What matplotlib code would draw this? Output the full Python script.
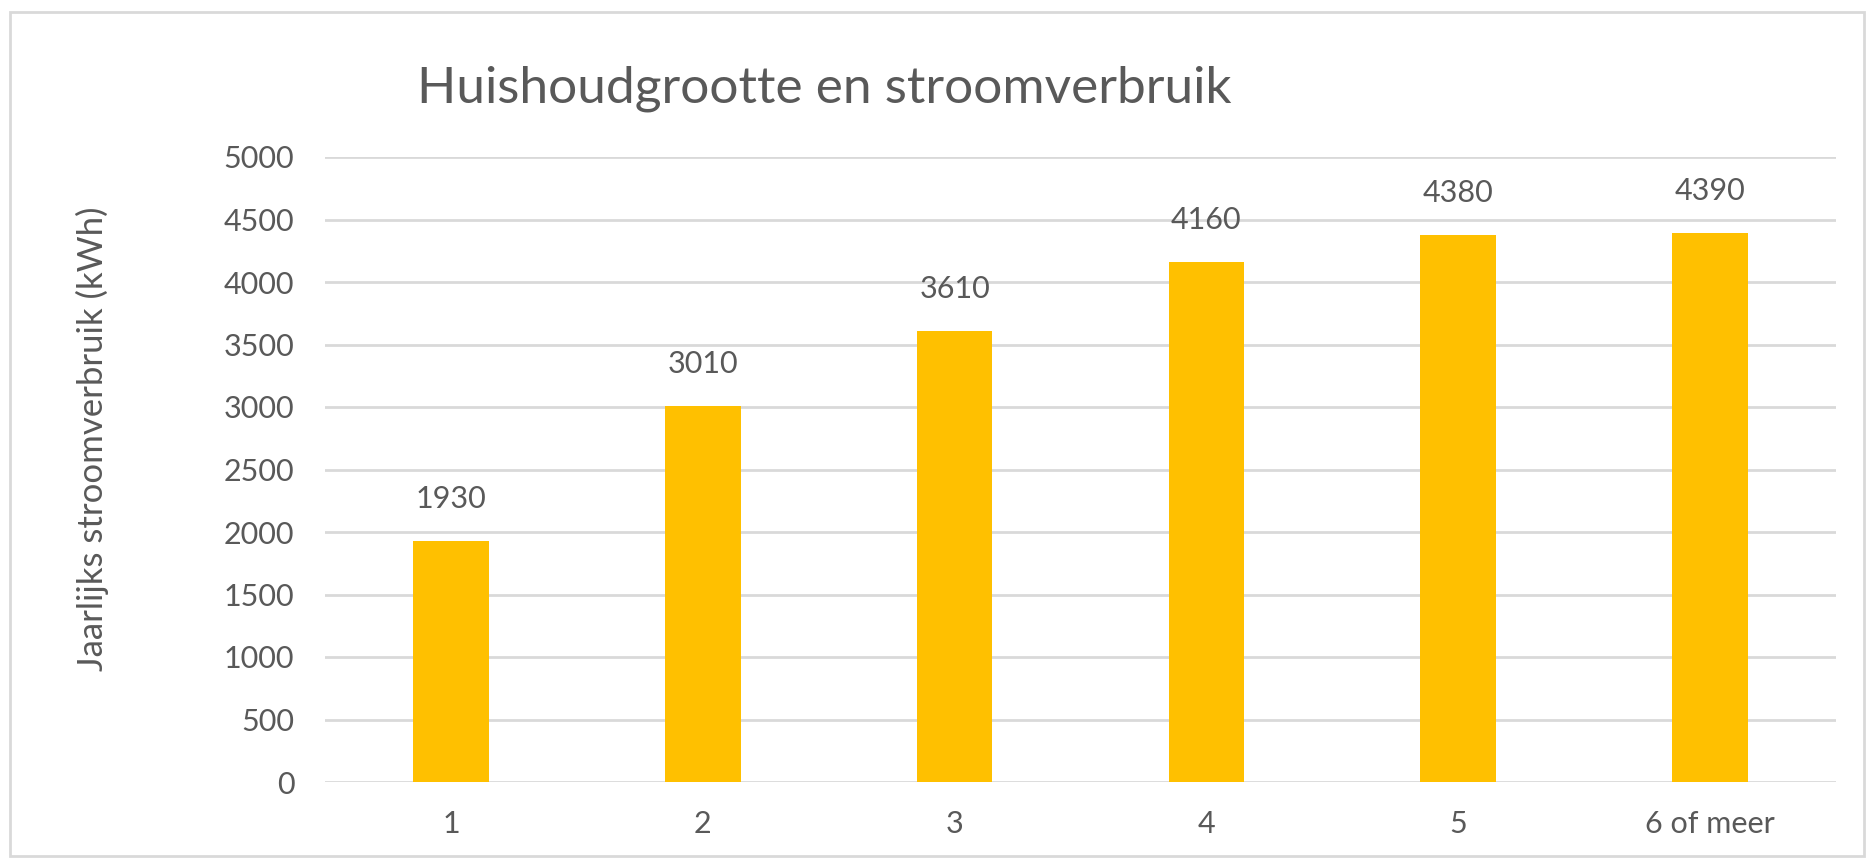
import matplotlib
matplotlib.use("Agg")
import matplotlib.pyplot as plt
from matplotlib.patches import Rectangle

categories = ["1", "2", "3", "4", "5", "6 of meer"]
values = [1930, 3010, 3610, 4160, 4380, 4390]
yticks = [0, 500, 1000, 1500, 2000, 2500, 3000, 3500, 4000, 4500, 5000]
title = "Huishoudgrootte en stroomverbruik"
ylabel = "Jaarlijks stroomverbruik (kWh)"

plt.rcParams['font.family'] = ['Lato', 'DejaVu Sans']
txt = '#595959'
W, H = 1872, 864
fig = plt.figure(figsize=(W / 100, H / 100), dpi=100)
fig.patch.set_facecolor('white')

# light frame around the chart
fig.patches.append(Rectangle((10 / W, 8 / H), 1854 / W, 844 / H, transform=fig.transFigure,
                             fill=False, edgecolor='#d9d9d9', linewidth=2))

ax = fig.add_axes([325 / W, 1 - 782 / H, (1836 - 325) / W, (782 - 157) / H])
x = list(range(len(categories)))
ax.bar(x, values, width=0.30, color='#FFC000', zorder=3)
ax.set_xlim(-0.5, len(categories) - 0.5)
ax.set_ylim(0, 5000)
ax.set_yticks(yticks)
ax.set_yticklabels([str(v) for v in yticks])
ax.set_xticks(x)
ax.set_xticklabels(categories)
ax.grid(axis='y', color='#d9d9d9', linewidth=2, zorder=0)
for s in ax.spines.values():
    s.set_visible(False)
ax.tick_params(axis='both', length=0, labelsize=22, labelcolor=txt)
ax.tick_params(axis='y', pad=22)
ax.tick_params(axis='x', pad=20)

for xi, v in zip(x, values):
    ax.annotate(str(v), (xi, v), xytext=(0, 20), textcoords='offset points',
                ha='center', va='bottom', fontsize=22, color=txt)

ax.set_ylabel(ylabel, fontsize=25, color=txt, va='center')
ax.yaxis.set_label_coords(-0.154, 0.549)

fig.text(824 / W, 1 - 102 / H, title, ha='center', va='baseline', fontsize=37, color=txt)

fig.savefig('out.png', dpi=100)
